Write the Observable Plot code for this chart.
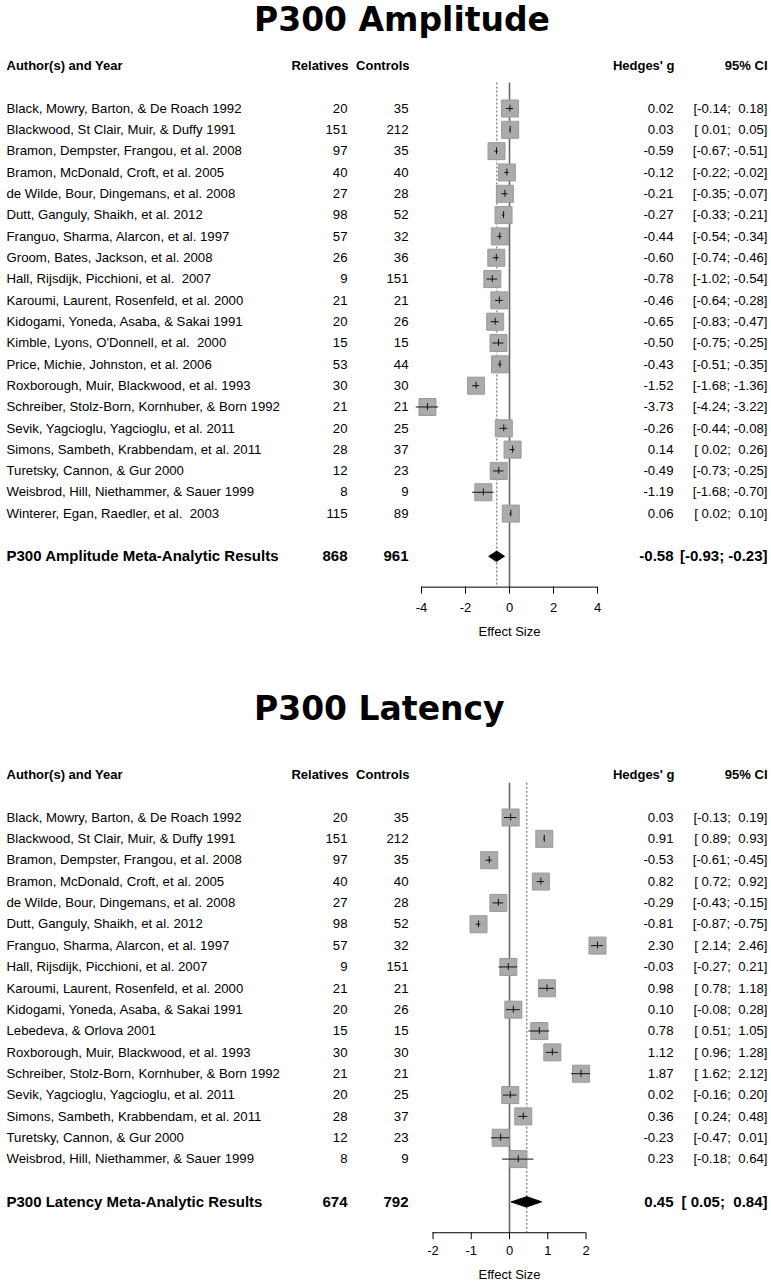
<!DOCTYPE html>
<html>
<head>
<meta charset="utf-8">
<script src="https://cdn.jsdelivr.net/npm/d3@7"></script>
<script src="https://cdn.jsdelivr.net/npm/@observablehq/plot@0.6"></script>
<style>
html, body { margin: 0; padding: 0; background: #fff; }
#page { position: relative; width: 771px; height: 1282px; overflow: hidden; background: #fff; }
.title { position: absolute; left: 254px; font-family: "DejaVu Sans", sans-serif; font-weight: bold; font-size: 33px; line-height: 1; white-space: nowrap; color: #000; }
svg text { white-space: pre; }
</style>
</head>
<body>
<div id="page"></div>
<script>
// ---------------- DATA ----------------
const headerLabels = ["Author(s) and Year", "Relatives", "Controls", "Hedges' g", "95% CI"];
const axisLabel = "Effect Size";

// P300 Amplitude
const ampTitle = "P300 Amplitude";
const ampStudies = [
  "Black, Mowry, Barton, & De Roach 1992",
  "Blackwood, St Clair, Muir, & Duffy 1991",
  "Bramon, Dempster, Frangou, et al. 2008",
  "Bramon, McDonald, Croft, et al. 2005",
  "de Wilde, Bour, Dingemans, et al. 2008",
  "Dutt, Ganguly, Shaikh, et al. 2012",
  "Franguo, Sharma, Alarcon, et al. 1997",
  "Groom, Bates, Jackson, et al. 2008",
  "Hall, Rijsdijk, Picchioni, et al.  2007",
  "Karoumi, Laurent, Rosenfeld, et al. 2000",
  "Kidogami, Yoneda, Asaba, & Sakai 1991",
  "Kimble, Lyons, O'Donnell, et al.  2000",
  "Price, Michie, Johnston, et al. 2006",
  "Roxborough, Muir, Blackwood, et al. 1993",
  "Schreiber, Stolz-Born, Kornhuber, & Born 1992",
  "Sevik, Yagcioglu, Yagcioglu, et al. 2011",
  "Simons, Sambeth, Krabbendam, et al. 2011",
  "Turetsky, Cannon, & Gur 2000",
  "Weisbrod, Hill, Niethammer, & Sauer 1999",
  "Winterer, Egan, Raedler, et al.  2003"
];
const ampRelatives = [20, 151, 97, 40, 27, 98, 57, 26, 9, 21, 20, 15, 53, 30, 21, 20, 28, 12, 8, 115];
const ampControls  = [35, 212, 35, 40, 28, 52, 32, 36, 151, 21, 26, 15, 44, 30, 21, 25, 37, 23, 9, 89];
const ampG  = [0.02, 0.03, -0.59, -0.12, -0.21, -0.27, -0.44, -0.60, -0.78, -0.46, -0.65, -0.50, -0.43, -1.52, -3.73, -0.26, 0.14, -0.49, -1.19, 0.06];
const ampLo = [-0.14, 0.01, -0.67, -0.22, -0.35, -0.33, -0.54, -0.74, -1.02, -0.64, -0.83, -0.75, -0.51, -1.68, -4.24, -0.44, 0.02, -0.73, -1.68, 0.02];
const ampHi = [0.18, 0.05, -0.51, -0.02, -0.07, -0.21, -0.34, -0.46, -0.54, -0.28, -0.47, -0.25, -0.35, -1.36, -3.22, -0.08, 0.26, -0.25, -0.70, 0.10];
const ampMetaLabel = "P300 Amplitude Meta-Analytic Results";
const ampMetaN = [868, 961];
const ampMetaG = [-0.58, -0.93, -0.23]; // estimate, lower, upper
const ampTicks = [-4, -2, 0, 2, 4];

// P300 Latency
const latTitle = "P300 Latency";
const latStudies = [
  "Black, Mowry, Barton, & De Roach 1992",
  "Blackwood, St Clair, Muir, & Duffy 1991",
  "Bramon, Dempster, Frangou, et al. 2008",
  "Bramon, McDonald, Croft, et al. 2005",
  "de Wilde, Bour, Dingemans, et al. 2008",
  "Dutt, Ganguly, Shaikh, et al. 2012",
  "Franguo, Sharma, Alarcon, et al. 1997",
  "Hall, Rijsdijk, Picchioni, et al. 2007",
  "Karoumi, Laurent, Rosenfeld, et al. 2000",
  "Kidogami, Yoneda, Asaba, & Sakai 1991",
  "Lebedeva, & Orlova 2001",
  "Roxborough, Muir, Blackwood, et al. 1993",
  "Schreiber, Stolz-Born, Kornhuber, & Born 1992",
  "Sevik, Yagcioglu, Yagcioglu, et al. 2011",
  "Simons, Sambeth, Krabbendam, et al. 2011",
  "Turetsky, Cannon, & Gur 2000",
  "Weisbrod, Hill, Niethammer, & Sauer 1999"
];
const latRelatives = [20, 151, 97, 40, 27, 98, 57, 9, 21, 20, 15, 30, 21, 20, 28, 12, 8];
const latControls  = [35, 212, 35, 40, 28, 52, 32, 151, 21, 26, 15, 30, 21, 25, 37, 23, 9];
const latG  = [0.03, 0.91, -0.53, 0.82, -0.29, -0.81, 2.30, -0.03, 0.98, 0.10, 0.78, 1.12, 1.87, 0.02, 0.36, -0.23, 0.23];
const latLo = [-0.13, 0.89, -0.61, 0.72, -0.43, -0.87, 2.14, -0.27, 0.78, -0.08, 0.51, 0.96, 1.62, -0.16, 0.24, -0.47, -0.18];
const latHi = [0.19, 0.93, -0.45, 0.92, -0.15, -0.75, 2.46, 0.21, 1.18, 0.28, 1.05, 1.28, 2.12, 0.20, 0.48, 0.01, 0.64];
const latMetaLabel = "P300 Latency Meta-Analytic Results";
const latMetaN = [674, 792];
const latMetaG = [0.45, 0.05, 0.84];
const latTicks = [-2, -1, 0, 1, 2];

// ---------------- DRAWING ----------------
const page = document.getElementById("page");
const FONT = '"Liberation Sans", Arial, Helvetica, sans-serif';
const cols = [6, 347, 408, 673, 767]; // column anchors in px
const pad = v => (v < 0 ? "" : " ") + v.toFixed(2);
const ciText = (lo, hi) => `[${pad(lo)}; ${pad(hi)}]`;

function addTitle(text, top) {
  const d = document.createElement("div");
  d.className = "title";
  d.style.top = top + "px";
  d.textContent = text;
  page.appendChild(d);
}

function drawPanel(cfg, L) {
  const rows = cfg.studies.map((s, i) => ({
    study: s, rel: cfg.rel[i], ctrl: cfg.ctrl[i], g: cfg.g[i], lo: cfg.lo[i], hi: cfg.hi[i], row: i
  }));
  const metaRow = rows.length + 1;
  const axisRow = metaRow + 1.45;
  const headerRow = -2;
  const lineTopRow = L.lineTopRow;
  const meta = {study: cfg.metaLabel, rel: cfg.metaN[0], ctrl: cfg.metaN[1],
                g: cfg.metaG[0], lo: cfg.metaG[1], hi: cfg.metaG[2], row: metaRow};
  const yRange = [L.firstRowY + headerRow * L.rowH - L.top, L.firstRowY + axisRow * L.rowH - L.top];
  const dh = 0.24; // diamond half-height in rows
  const diamond = [
    {x: meta.lo, y: metaRow}, {x: meta.g, y: metaRow - dh},
    {x: meta.hi, y: metaRow}, {x: meta.g, y: metaRow + dh}
  ];

  const textCols = (data, fontSize, fontWeight) => [
    Plot.text(data, {y: "row", text: "study", frameAnchor: "left", dx: cols[0], textAnchor: "start", fontSize, fontWeight}),
    Plot.text(data, {y: "row", text: d => String(d.rel), frameAnchor: "left", dx: cols[1], textAnchor: "end", fontSize, fontWeight}),
    Plot.text(data, {y: "row", text: d => String(d.ctrl), frameAnchor: "left", dx: cols[2], textAnchor: "end", fontSize, fontWeight}),
    Plot.text(data, {y: "row", text: d => d.g.toFixed(2), frameAnchor: "left", dx: cols[3], textAnchor: "end", fontSize, fontWeight}),
    Plot.text(data, {y: "row", text: d => ciText(d.lo, d.hi), frameAnchor: "left", dx: cols[4], textAnchor: "end", fontSize, fontWeight})
  ];

  const headerMarks = headerLabels.map((h, j) =>
    Plot.text([h], {y: () => headerRow, text: d => d, frameAnchor: "left", dx: cols[j] + (j === 1 || j === 2 || j === 3 ? 1 : 0),
      textAnchor: j === 0 ? "start" : "end", fontSize: 13, fontWeight: "bold"})
  );

  const plot = Plot.plot({
    width: 771,
    height: L.height,
    marginLeft: 0,
    marginRight: 0,
    marginTop: yRange[0],
    marginBottom: L.height - yRange[1],
    x: {domain: [d3.min(cfg.ticks), d3.max(cfg.ticks)], range: cfg.xRange},
    y: {domain: [headerRow, axisRow], range: yRange, axis: null},
    style: {fontFamily: FONT, fontSize: "13px", color: "#000", background: "#fff", overflow: "visible"},
    marks: [
      Plot.ruleX([0], {y1: lineTopRow, y2: axisRow, stroke: "#666", strokeWidth: 1.6}),
      Plot.ruleX([meta.g], {y1: lineTopRow, y2: axisRow, stroke: "#888", strokeWidth: 1.4, strokeDasharray: "2,2"}),
      Plot.dot(rows, {x: "g", y: "row", symbol: "square", r: 9.6, fill: "#ababab", stroke: "#9a9a9a", strokeWidth: 1}),
      Plot.ruleY(rows, {y: "row", x1: "lo", x2: "hi", stroke: "#111", strokeWidth: 1}),
      Plot.ruleX(rows, {x: "g", y1: d => d.row - 0.16, y2: d => d.row + 0.16, stroke: "#111", strokeWidth: 1}),
      Plot.line(diamond, {x: "x", y: "y", curve: "linear-closed", fill: "#000", stroke: "#000", strokeWidth: 1}),
      ...headerMarks,
      ...textCols(rows, 13.2, "normal"),
      ...textCols([meta], 15, "bold"),
      Plot.ruleY([axisRow], {x1: d3.min(cfg.ticks), x2: d3.max(cfg.ticks), stroke: "#000", strokeWidth: 1}),
      Plot.axisX({ticks: cfg.ticks, tickSize: 7, tickPadding: L.tickPad, tickFormat: d => String(d), fontSize: 13, label: null, stroke: "#000"}),
      Plot.text([axisLabel], {x: () => 0, text: d => d, frameAnchor: "bottom", dy: L.labelDy, fontSize: 13})
    ]
  });
  plot.style.position = "absolute";
  plot.style.left = "0px";
  plot.style.top = L.top + "px";
  page.appendChild(plot);
}

addTitle(ampTitle, 3);
drawPanel({
  studies: ampStudies, rel: ampRelatives, ctrl: ampControls, g: ampG, lo: ampLo, hi: ampHi,
  metaLabel: ampMetaLabel, metaN: ampMetaN, metaG: ampMetaG, ticks: ampTicks, xRange: [421, 597]
}, {top: 40, height: 610, firstRowY: 108, rowH: 21.32, tickPad: 9, labelDy: 49, lineTopRow: -1.2});

addTitle(latTitle, 692);
drawPanel({
  studies: latStudies, rel: latRelatives, ctrl: latControls, g: latG, lo: latLo, hi: latHi,
  metaLabel: latMetaLabel, metaN: latMetaN, metaG: latMetaG, ticks: latTicks, xRange: [432.5, 585.5]
}, {top: 745, height: 537, firstRowY: 817, rowH: 21.35, tickPad: 6, labelDy: 46, lineTopRow: -1.6});
</script>
</body>
</html>
